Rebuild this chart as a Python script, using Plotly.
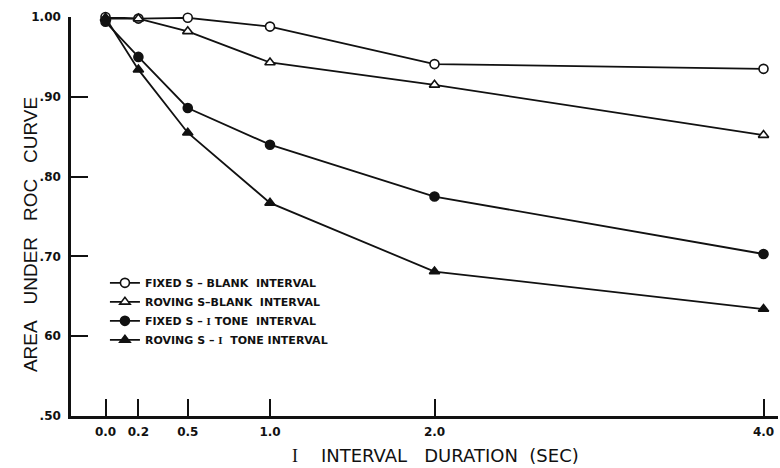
import plotly.graph_objects as go

# ---- data ----
durations = [0.0, 0.2, 0.5, 1.0, 2.0, 4.0]
fixed_blank = [1.000, 0.998, 0.999, 0.988, 0.941, 0.935]
roving_blank = [0.998, 0.998, 0.982, 0.943, 0.915, 0.852]
fixed_tone = [0.994, 0.950, 0.886, 0.840, 0.775, 0.703]
roving_tone = [0.999, 0.934, 0.855, 0.767, 0.681, 0.634]

NB = "\u00a0"
SERIF_I = '<span style="font-family:Liberation Serif">I</span>'
series_names = [
    f"FIXED S{NB}–{NB}BLANK{NB}{NB}INTERVAL",
    f"ROVING{NB}S–BLANK{NB}{NB}INTERVAL",
    f"FIXED{NB}S{NB}–{NB}{SERIF_I}{NB}TONE{NB}{NB}INTERVAL",
    f"ROVING{NB}S{NB}–{NB}{SERIF_I}{NB}{NB}TONE{NB}INTERVAL",
]
x_tick_vals = [0.0, 0.2, 0.5, 1.0, 2.0, 4.0]
x_tick_text = ["0.0", "0.2", "0.5", "1.0", "2.0", "4.0"]
y_tick_vals = [0.5, 0.6, 0.7, 0.8, 0.9, 1.0]
y_tick_text = [".50", "60", ".70", ".80", ".90", "1.00"]
x_title = f"{SERIF_I}{NB}{NB}{NB}{NB}INTERVAL{NB}{NB}{NB}DURATION{NB}{NB}(SEC)"
y_title = f"AREA{NB}{NB}{NB}UNDER{NB}{NB}{NB}ROC{NB}{NB}{NB}CURVE"

INK = "#111111"
series = [
    (fixed_blank, "circle", "white"),
    (roving_blank, "triangle-up", "white"),
    (fixed_tone, "circle", INK),
    (roving_tone, "triangle-up", INK),
]

fig = go.Figure()
for (vals, sym, fill), name in zip(series, series_names):
    fig.add_trace(go.Scatter(
        x=durations, y=vals, name=name, mode="lines+markers",
        line=dict(color=INK, width=1.8),
        marker=dict(symbol=sym, size=9, color=fill, line=dict(color=INK, width=1.6)),
        cliponaxis=False,
    ))

fig.update_layout(
    width=780, height=468,
    margin=dict(l=71, r=2, t=17, b=52),
    paper_bgcolor="white", plot_bgcolor="white",
    font=dict(family="Liberation Sans", color=INK),
    showlegend=True,
    legend=dict(
        x=0.048, y=0.37, xanchor="left", yanchor="top",
        bgcolor="rgba(0,0,0,0)", tracegroupgap=0,
        font=dict(family="DejaVu Sans", size=11, color=INK, weight="bold"),
        itemwidth=30,
    ),
    annotations=[
        dict(text=x_title, xref="paper", yref="paper", x=0.515, y=-0.098,
             xanchor="center", yanchor="middle", showarrow=False,
             font=dict(family="DejaVu Sans", size=18, color=INK)),
        dict(text=y_title, xref="paper", yref="paper", x=-0.058, y=0.456,
             xanchor="center", yanchor="middle", showarrow=False, textangle=-90,
             font=dict(family="Liberation Sans", size=19, color=INK)),
    ],
)

fig.update_xaxes(
    range=[-0.2097, 4.088], tickvals=x_tick_vals, ticktext=x_tick_text,
    showline=True, linecolor=INK, linewidth=2.5,
    ticks="inside", ticklen=17, tickwidth=2, tickcolor=INK,
    ticklabelstandoff=3, automargin=False,
    tickfont=dict(family="DejaVu Sans", size=12, color=INK, weight="bold"),
    showgrid=False, zeroline=False,
)
fig.update_yaxes(
    range=[0.5, 1.0], tickvals=y_tick_vals, ticktext=y_tick_text,
    showline=True, linecolor=INK, linewidth=2.5,
    ticks="inside", ticklen=17, tickwidth=2, tickcolor=INK,
    ticklabelstandoff=5, automargin=False,
    tickfont=dict(family="DejaVu Sans", size=12, color=INK, weight="bold"),
    showgrid=False, zeroline=False,
)

fig.write_html("out.html", config={"displayModeBar": False},
               post_script="document.body.style.margin='0px';")
